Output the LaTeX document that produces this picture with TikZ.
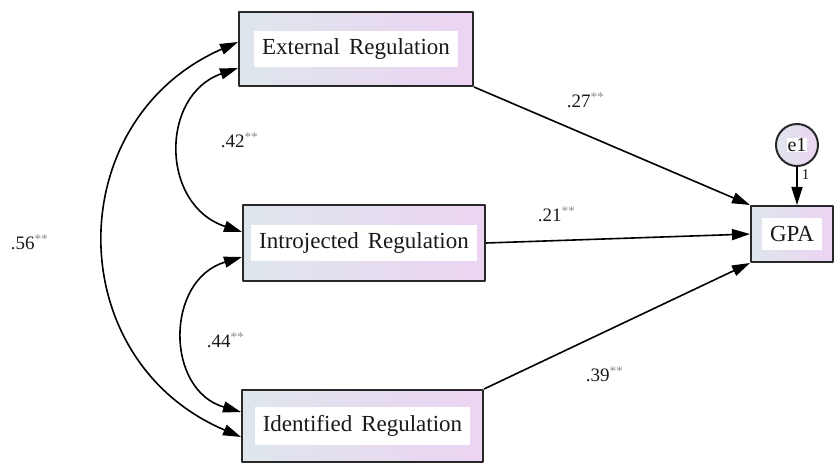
\documentclass[tikz,border=0pt]{standalone}
\usepackage{fontspec}
\setmainfont{Liberation Serif}
\usetikzlibrary{calc,arrows.meta}
\definecolor{boxleft}{RGB}{222,230,236}
\definecolor{boxright}{RGB}{236,212,242}
\definecolor{edgegray}{RGB}{40,40,40}
\definecolor{txtgray}{RGB}{25,25,25}
\definecolor{stargray}{RGB}{140,140,140}
\newcommand{\coef}[1]{\textcolor{txtgray}{#1}\textsuperscript{\textcolor{stargray}{**}}}
\newcommand{\boxtext}[1]{{\setlength{\fboxsep}{8pt}\spaceskip=9pt\relax\colorbox{white}{\textcolor{txtgray}{#1}}}}
\tikzset{sem/.style={
  x=1pt,y=1pt,
  >={Triangle[length=18pt,width=11pt]},line width=1.6pt,line join=round
},
varbox/.style={draw=edgegray,line width=2pt,left color=boxleft,right color=boxright,
  inner sep=0pt,font=\rmfamily\fontsize{23}{27}\selectfont},
errcirc/.style={circle,draw=edgegray,line width=2pt,left color=boxleft,right color=boxright,
  minimum size=42pt,inner sep=0pt,font=\rmfamily\fontsize{20}{22}\selectfont},
coefl/.style={anchor=west,inner sep=0pt,font=\rmfamily\fontsize{19}{22}\selectfont}}

\begin{document}
\begin{tikzpicture}[sem]
  \useasboundingbox (0,0) rectangle (835,464);
  \node[varbox,minimum width=234pt,minimum height=74pt] (ext) at (356,415) {\boxtext{External Regulation}};
  \node[varbox,minimum width=242pt,minimum height=76pt] (intro) at (364,221) {\boxtext{Introjected Regulation}};
  \node[varbox,minimum width=241pt,minimum height=72pt] (ident) at (362.5,38) {\boxtext{Identified Regulation}};
  \node[varbox,minimum width=82pt,minimum height=56pt] (gpa) at (792,230) {\boxtext{GPA}};
  \node[errcirc] (e1) at (797,319) {{\setlength{\fboxsep}{0.5pt}\colorbox{white}{\textcolor{txtgray}{e1}}}};
  % paths to GPA
  \draw[->] (ext.south east) -- (gpa.north west);
  \draw[->] (intro.east) -- (gpa.west);
  \draw[->] (ident.north east) -- (gpa.south west);
  \draw[->] (e1.south) -- (e1.south |- gpa.north);
  % covariances
  \draw[<->] ($(ext.west)+(0,7)$) .. controls (60,344) and (60,104) .. ($(ident.west)+(0,-11)$);
  \draw[<->] ($(ext.west)+(0,-19)$) .. controls (160,369) and (160,259) .. ($(intro.west)+(0,11)$);
  \draw[<->] ($(intro.west)+(0,-14)$) .. controls (165,184) and (165,74) .. ($(ident.west)+(0,14)$);
  \node[coefl] (c27) at (566,364) {\coef{.27}};
  \node[coefl] (c21) at (537,250) {\coef{.21}};
  \node[coefl] (c39) at (585,90) {\coef{.39}};
  \node[coefl] (c42) at (220,324) {\coef{.42}};
  \node[coefl] (c44) at (206,124) {\coef{.44}};
  \node[coefl] (c56) at (10,222) {\coef{.56}};
  \node[coefl,font=\rmfamily\fontsize{15}{17}\selectfont] (one) at (801,289) {\textcolor{txtgray}{1}};
\end{tikzpicture}
\end{document}
